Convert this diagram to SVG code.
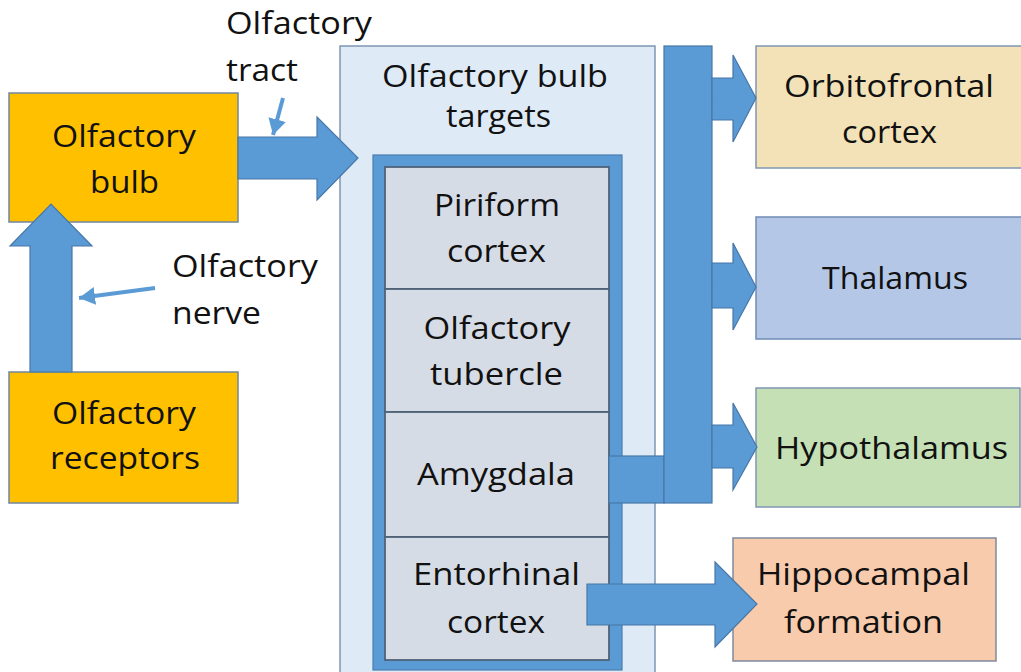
<svg xmlns="http://www.w3.org/2000/svg" width="1021" height="672" viewBox="0 0 1021 672">
<defs>
<style>
text{font-family:"Open Sans","Liberation Sans",sans-serif;font-size:31px;fill:#111;}
.m{text-anchor:middle;}
.orange{fill:#FFC000;stroke:#71869E;stroke-width:1.5;}
.outer{fill:#DEEAF6;stroke:#7F97B2;stroke-width:1.5;}
.frame{fill:#5B9BD5;stroke:#4A7DB0;stroke-width:1.2;}
.cell{fill:#D6DCE5;stroke:#4F6278;stroke-width:1.8;}
.blue{fill:#5B9BD5;stroke:#4677A8;stroke-width:1.2;}
.thin{stroke:#5B9BD5;stroke-width:4;fill:none;}
</style>
<marker id="ah" markerUnits="userSpaceOnUse" markerWidth="20" markerHeight="20" refX="16" refY="9" orient="auto">
<path d="M0,0 L16,9 L0,18 Z" fill="#5B9BD5"/>
</marker>
</defs>
<rect width="1021" height="672" fill="#fff"/>

<g id="olfactory-bulb">
<rect class="orange" x="9" y="93" width="229" height="129"/>
<text class="m" x="124" y="147" textLength="144" lengthAdjust="spacingAndGlyphs">Olfactory</text>
<text class="m" x="124.5" y="193" textLength="69" lengthAdjust="spacingAndGlyphs">bulb</text>
</g>

<g id="olfactory-receptors">
<rect class="orange" x="9" y="372" width="229" height="131"/>
<text class="m" x="124" y="424" textLength="144" lengthAdjust="spacingAndGlyphs">Olfactory</text>
<text class="m" x="125" y="469" textLength="150" lengthAdjust="spacingAndGlyphs">receptors</text>
</g>

<g id="olfactory-bulb-targets">
<rect class="outer" x="340" y="46" width="315" height="640"/>
<text class="m" x="495" y="87" textLength="226" lengthAdjust="spacingAndGlyphs">Olfactory bulb</text>
<text class="m" x="498.5" y="127" textLength="105" lengthAdjust="spacingAndGlyphs">targets</text>
<rect class="frame" x="373" y="155" width="249" height="515"/>
</g>

<g id="piriform-cortex">
<rect class="cell" x="385" y="167" width="224" height="122"/>
<text class="m" x="497" y="216" textLength="126" lengthAdjust="spacingAndGlyphs">Piriform</text>
<text class="m" x="496.5" y="262" textLength="99" lengthAdjust="spacingAndGlyphs">cortex</text>
</g>

<g id="olfactory-tubercle">
<rect class="cell" x="385" y="289" width="224" height="123"/>
<text class="m" x="497" y="339" textLength="147" lengthAdjust="spacingAndGlyphs">Olfactory</text>
<text class="m" x="496.5" y="385" textLength="133" lengthAdjust="spacingAndGlyphs">tubercle</text>
</g>

<g id="amygdala">
<rect class="cell" x="385" y="412" width="224" height="125"/>
<text class="m" x="496" y="485" textLength="158" lengthAdjust="spacingAndGlyphs">Amygdala</text>
</g>

<g id="entorhinal-cortex">
<rect class="cell" x="385" y="537" width="224" height="123"/>
<text class="m" x="496.5" y="585" textLength="167" lengthAdjust="spacingAndGlyphs">Entorhinal</text>
<text class="m" x="496" y="633" textLength="98" lengthAdjust="spacingAndGlyphs">cortex</text>
</g>

<g id="orbitofrontal-cortex">
<rect x="756" y="46" width="266" height="122" fill="#F3E2B7" stroke="#7F97B2" stroke-width="1.5"/>
<text class="m" x="889" y="97" textLength="210" lengthAdjust="spacingAndGlyphs">Orbitofrontal</text>
<text class="m" x="889.5" y="143" textLength="95" lengthAdjust="spacingAndGlyphs">cortex</text>
</g>

<g id="thalamus">
<rect x="756" y="217" width="266" height="122" fill="#B4C7E7" stroke="#6F8CB6" stroke-width="1.5"/>
<text class="m" x="895" y="289" textLength="146" lengthAdjust="spacingAndGlyphs">Thalamus</text>
</g>

<g id="hypothalamus">
<rect x="756" y="388" width="264" height="119" fill="#C5E0B4" stroke="#7F97B2" stroke-width="1.5"/>
<text class="m" x="891.5" y="459" textLength="233" lengthAdjust="spacingAndGlyphs">Hypothalamus</text>
</g>

<g id="hippocampal-formation">
<rect x="733" y="538" width="263" height="123" fill="#F8CBAD" stroke="#7F8A9E" stroke-width="1.5"/>
<text class="m" x="863.5" y="585" textLength="213" lengthAdjust="spacingAndGlyphs">Hippocampal</text>
<text class="m" x="863.5" y="633" textLength="159" lengthAdjust="spacingAndGlyphs">formation</text>
</g>

<g id="labels">
<text x="226" y="34" textLength="146" lengthAdjust="spacingAndGlyphs">Olfactory</text>
<text x="226" y="81" textLength="72" lengthAdjust="spacingAndGlyphs">tract</text>
<text x="172" y="277" textLength="146" lengthAdjust="spacingAndGlyphs">Olfactory</text>
<text x="172" y="324" textLength="89" lengthAdjust="spacingAndGlyphs">nerve</text>
</g>

<g id="connectors">
<polygon class="blue" points="30,372 30,246 10,246 51,204 92,246 72,246 72,372"/>
<polygon class="blue" points="238,137 317,137 317,117 358,158 317,200 317,179 238,179"/>
<rect class="blue" x="609" y="456" width="55" height="47"/>
<rect class="blue" x="664" y="46" width="48" height="457"/>
<polygon class="blue" points="712,78 733,78 733,55 756,98 733,142 733,120 712,120"/>
<polygon class="blue" points="712,263 733,263 733,243 756,287 733,330 733,308 712,308"/>
<polygon class="blue" points="712,425 733,425 733,403 757,447 733,490 733,468 712,468"/>
<polygon class="blue" points="587,584 715,584 715,562 757,604 715,647 715,625 587,625"/>
<line class="thin" x1="155" y1="288" x2="79" y2="298" marker-end="url(#ah)"/>
<line class="thin" x1="283" y1="98" x2="273" y2="135" marker-end="url(#ah)"/>
</g>
</svg>
